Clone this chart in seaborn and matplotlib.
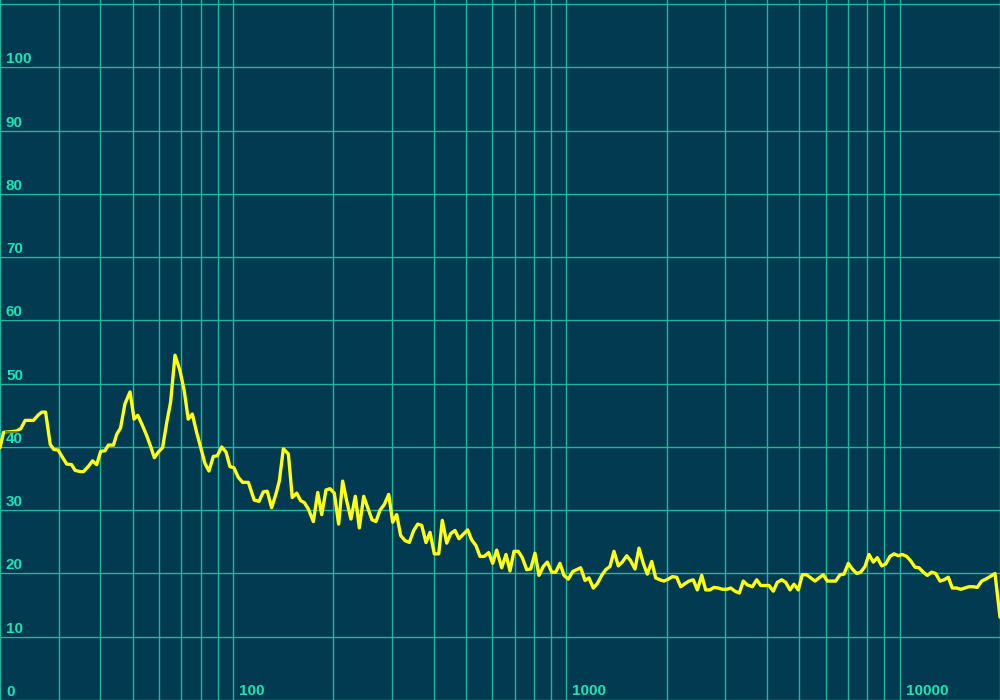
"""
Frequency response curve, log frequency axis, dark teal style.
"""

import numpy as np
import pandas as pd
import seaborn as sns
import matplotlib.pyplot as plt
from matplotlib.ticker import LogLocator, NullFormatter, MultipleLocator
import matplotlib.transforms as mtransforms

# Data (Hz, dB)
freq_hz = [20, 20.5, 22.4, 23.1, 23.8, 25.2, 26.1, 26.7, 27.4, 28.3,
           29.0, 29.9, 30.6, 31.7, 32.8, 33.6, 34.8, 35.6, 36.8, 37.9,
           39.0, 40.1, 41.3, 42.3, 43.8, 44.8, 46.0, 47.4, 49.1, 50.5,
           51.8, 53.2, 55.1, 56.6, 58.1, 59.7, 61.5, 63.3, 65.0, 67.0,
           69.3, 71.4, 73.4, 75.5, 77.8, 80.2, 82.4, 84.7, 87.3, 89.7,
           92.5, 95.3, 97.9, 100.7, 103.7, 106.9, 111.2, 115.8, 119.7, 123.3,
           126.7, 130.6, 134.6, 137.7, 141.6, 146.6, 150.6, 155.3, 159.6, 163.7,
           168.3, 174.2, 179.6, 184.6, 190.1, 195.4, 201.3, 207.5, 213.3, 219.3,
           225.9, 232.8, 239.3, 246.7, 253.6, 261.2, 268.5, 276.1, 284.4, 293.2,
           301.4, 309.8, 318.5, 328.1, 338.0, 348.5, 358.3, 368.3, 379.3, 390.0,
           401.8, 414.2, 424.6, 437.7, 450.0, 463.4, 476.4, 490.8, 505.9, 520.1,
           535.8, 550.8, 567.4, 584.9, 601.3, 618.2, 640.0, 659.2, 677.6, 696.6,
           717.6, 737.8, 760.5, 781.8, 805.4, 827.9, 852.9, 876.8, 903.9, 929.2,
           957.2, 984.0, 1014, 1045, 1074, 1104, 1138, 1169, 1205, 1239,
           1277, 1313, 1352, 1390, 1432, 1472, 1518, 1560, 1607, 1652,
           1702, 1750, 1804, 1854, 1910, 1963, 2023, 2080, 2144, 2204,
           2270, 2333, 2404, 2472, 2548, 2619, 2698, 2773, 2858, 2938,
           3028, 3113, 3206, 3303, 3396, 3491, 3614, 3726, 3830, 3945,
           4055, 4178, 4295, 4427, 4551, 4688, 4820, 4965, 5104, 5261,
           5409, 5572, 5728, 5901, 6066, 6253, 6428, 6622, 6808, 7014,
           7211, 7433, 7641, 7871, 8091, 8336, 8570, 8834, 9081, 9354,
           9616, 9906, 10183, 10498, 10792, 11117, 11429, 11773, 12103, 12476,
           12826, 13213, 13583, 13993, 14385, 14829, 15244, 15704, 16144, 16631,
           17097, 17624, 18118, 18664, 19320, 20000]

level_db = [39.9, 42.3, 42.5, 42.9, 44.2, 44.2, 45.1, 45.5, 45.5, 40.4,
            39.6, 39.5, 38.6, 37.3, 37.2, 36.3, 36.1, 36.1, 36.9, 37.8,
            37.2, 39.3, 39.4, 40.3, 40.3, 42.0, 43.0, 46.8, 48.7, 44.4,
            45.0, 43.7, 41.8, 40.1, 38.3, 39.2, 39.9, 43.9, 47.1, 54.5,
            52.1, 48.9, 44.4, 45.2, 42.3, 39.7, 37.4, 36.2, 38.5, 38.6,
            40.0, 39.2, 36.9, 36.7, 35.2, 34.4, 34.4, 31.6, 31.4, 32.9,
            33.0, 30.4, 32.6, 34.6, 39.7, 38.9, 32.0, 32.7, 31.5, 31.2,
            30.2, 28.2, 32.8, 29.3, 33.2, 33.4, 32.7, 27.8, 34.6, 31.5,
            28.6, 32.2, 27.2, 32.2, 30.4, 28.5, 28.2, 30.0, 30.9, 32.5,
            28.1, 29.3, 26.0, 25.2, 24.9, 26.8, 27.8, 27.6, 24.9, 26.5,
            23.1, 23.1, 28.4, 24.8, 26.3, 26.8, 25.5, 26.2, 26.9, 25.3,
            24.4, 22.7, 22.7, 23.3, 21.6, 23.7, 20.9, 23.0, 20.4, 23.5,
            23.5, 22.5, 20.6, 20.7, 23.2, 19.7, 21.1, 21.8, 20.2, 20.2,
            21.6, 19.7, 19.1, 20.3, 20.6, 20.9, 18.9, 19.3, 17.7, 18.4,
            19.7, 20.6, 21.1, 23.5, 21.2, 21.8, 22.8, 22.0, 20.7, 24.0,
            21.6, 19.9, 21.9, 19.3, 19.0, 18.8, 19.1, 19.5, 19.4, 17.9,
            18.4, 18.8, 19.0, 17.4, 19.7, 17.4, 17.4, 17.8, 17.7, 17.5,
            17.5, 17.7, 17.2, 16.9, 18.8, 18.2, 17.9, 19.0, 18.1, 18.1,
            18.1, 17.2, 18.6, 19.0, 18.6, 17.4, 18.3, 17.4, 19.8, 19.8,
            19.3, 18.8, 19.3, 19.8, 18.8, 18.8, 18.8, 19.8, 19.9, 21.6,
            20.7, 20.0, 20.2, 21.1, 23.0, 21.8, 22.5, 21.2, 21.5, 22.7,
            23.1, 22.8, 23.0, 22.7, 22.0, 21.0, 20.9, 20.2, 19.7, 20.2,
            20.0, 18.8, 19.0, 19.4, 17.7, 17.7, 17.5, 17.7, 17.9, 17.9,
            17.8, 18.8, 19.1, 19.5, 20.0, 13.1]

y_labels = [0, 10, 20, 30, 40, 50, 60, 70, 80, 90, 100]
x_labels = [100, 1000, 10000]

bg = "#023a52"
grid_col = "#20b89c"
txt_col = "#1ee4b4"
line_col = "#ffff10"

df = pd.DataFrame({"freq": freq_hz, "db": level_db})

sns.set_style("dark")
plt.rcParams['font.family'] = ['Liberation Sans', 'DejaVu Sans']

fig = plt.figure(figsize=(10, 7), dpi=100, facecolor=bg)
ax = fig.add_axes([0, 0, 1, 1])
ax.set_facecolor(bg)

sns.lineplot(data=df, x="freq", y="db", ax=ax, color=line_col,
             linewidth=2.4, sort=False, estimator=None, zorder=3)

ax.set_xscale("log")
ax.set_xlim(20, 20000)
ax.set_ylim(0, 110.65)

ax.xaxis.set_major_locator(LogLocator(base=10))
ax.xaxis.set_minor_locator(LogLocator(base=10, subs=np.arange(2, 10)))
ax.xaxis.set_minor_formatter(NullFormatter())
ax.yaxis.set_major_locator(MultipleLocator(10))
ax.grid(True, which="both", axis="x", color=grid_col, linewidth=1.0)
ax.grid(True, which="major", axis="y", color=grid_col, linewidth=1.0)
ax.tick_params(which="both", length=0, labelbottom=False, labelleft=False)
for s in ax.spines.values():
    s.set_visible(False)
ax.set_xlabel("")
ax.set_ylabel("")

# labels inside the plot
ytr = mtransforms.blended_transform_factory(ax.transAxes, ax.transData)
ytr = mtransforms.offset_copy(ytr, fig=fig, x=6, y=4, units="dots")
for v in y_labels:
    ax.text(0, v, str(v), transform=ytr, ha="left", va="baseline",
            color=txt_col, fontsize=11, fontweight="bold", zorder=4,
            bbox=dict(facecolor=bg, alpha=0.6, edgecolor="none", pad=0.5))

xtr = mtransforms.blended_transform_factory(ax.transData, ax.transAxes)
xtr = mtransforms.offset_copy(xtr, fig=fig, x=6, y=5, units="dots")
for v in x_labels:
    ax.text(v, 0, str(v), transform=xtr, ha="left", va="baseline",
            color=txt_col, fontsize=11, fontweight="bold", zorder=4)

fig.savefig("out.png", dpi=100, facecolor=bg)
